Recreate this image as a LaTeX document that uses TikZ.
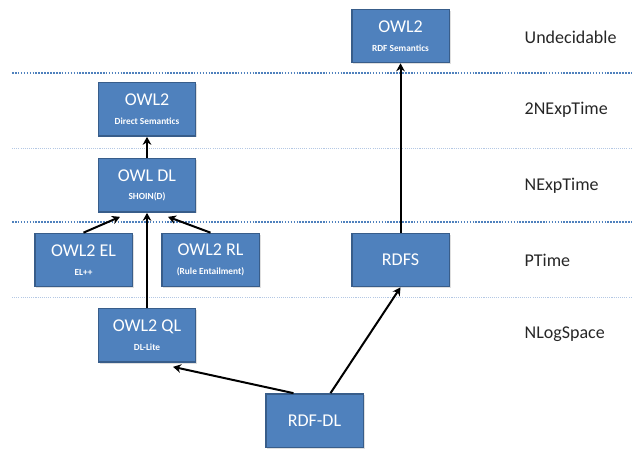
\documentclass[tikz,border=0pt]{standalone}
\usepackage{fontspec}
\setmainfont{Carlito}
\usetikzlibrary{calc,arrows.meta,shadows}

\definecolor{boxfill}{RGB}{79,129,189}
\definecolor{boxline}{RGB}{56,93,138}
\definecolor{sepline}{RGB}{79,129,189}
\definecolor{thinsep}{RGB}{180,200,228}

\newcommand{\subtxt}[1]{{\fontsize{7}{8}\selectfont\bfseries #1}}

\begin{document}
\begin{tikzpicture}[x=0.75pt,y=0.75pt,yscale=-1,xscale=1,
  owlbox/.style={draw=boxline,line width=1pt,fill=boxfill,text=white,
    minimum width=73pt,minimum height=40pt,inner sep=1pt,align=center,
    font=\fontsize{13.5}{14}\selectfont,
    drop shadow={shadow xshift=1pt,shadow yshift=-1pt,opacity=0.25}},
  level/.style={anchor=west,text=black!85,font=\fontsize{13.5}{15}\selectfont},
  thicksep/.style={draw=sepline,line width=2pt,dash pattern=on 1.2pt off 1pt},
  thinline/.style={draw=thinsep,line width=0.6pt,dash pattern=on 0.8pt off 0.8pt},
  link/.style={-{Stealth[length=6pt,width=6.5pt]},line width=1.5pt,black}]
\useasboundingbox (0,0) rectangle (632,452);

%Separators
\draw [thicksep] (12,73) -- (632,73) ;
\draw [thinline] (12,148) -- (632,148) ;
\draw [thicksep] (12,222) -- (632,222) ;
\draw [thinline] (12,297) -- (632,297) ;

%Levels
\node [level] (undec) at (520,37) {Undecidable};
\node [level] (nexp2) at (520,110) {2NExpTime};
\node [level] (nexp) at (520,186) {NExpTime};
\node [level] (ptime) at (520,260) {PTime};
\node [level] (nlog) at (520,334) {NLogSpace};

%Boxes
\node [owlbox] (rdfsem) at (400.5,36) {OWL2\\\subtxt{RDF Semantics}};
\node [owlbox] (direct) at (147,109.5) {OWL2\\\subtxt{Direct Semantics}};
\node [owlbox] (owldl) at (147,185.5) {OWL DL\\\subtxt{SHOIN(D)}};
\node [owlbox] (owlel) at (83.5,260) {OWL2 EL\\\subtxt{EL++}};
\node [owlbox] (owlrl) at (210.5,260) {OWL2 RL\\\subtxt{(Rule Entailment)}};
\node [owlbox] (owlql) at (147,335.5) {OWL2 QL\\\subtxt{DL-Lite}};
\node [owlbox] (rdfs) at (400.5,260) {RDFS};
\node [owlbox] (rdfdl) at (314.5,420.5) {RDF-DL};

%Arrows
\draw [link] (owldl.north) -- (direct.south) ;
\draw [link] (owlql.north) -- (owldl.south) ;
\draw [link] (owlel.north) -- ($(owldl.south)+(-27,4)$) ;
\draw [link] (owlrl.north) -- ($(owldl.south)+(21,4)$) ;
\draw [link] ($(rdfdl.north)+(-21,0)$) -- ($(owlql.south)+(26,4)$) ;
\draw [link] ($(rdfdl.north)+(16,0)$) -- (rdfs.south) ;
\draw [link] (rdfs.north) -- (rdfsem.south) ;

\end{tikzpicture}
\end{document}
